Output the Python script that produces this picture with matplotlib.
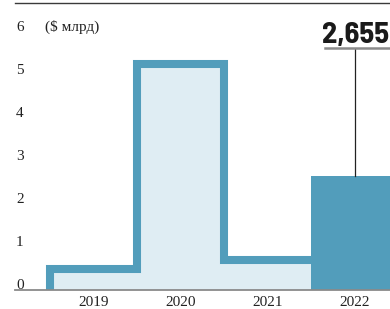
import matplotlib
matplotlib.use("Agg")
import matplotlib.pyplot as plt
import numpy as np

years = ["2019", "2020", "2021", "2022"]
values = [0.48, 5.25, 0.70, 2.655]
yticks = [0, 1, 2, 3, 4, 5, 6]
unit_label = "($ млрд)"
highlight_label = "2,655"

line_color = "#529dbb"
fill_color = "#dfedf3"
bar_color = "#529dbb"

W, H = 390, 309
fig = plt.figure(figsize=(W / 100, H / 100), dpi=100)
ax = fig.add_axes([0, 0, 1, 1])
ax.set_axis_off()

px_per_x = 87.0
x0_px = 93.5
px_per_y = 43.0
y0_px = 290.0  # from top
ax.set_xlim(-x0_px / px_per_x, (W - x0_px) / px_per_x)
ax.set_ylim(-(H - y0_px) / px_per_y, y0_px / px_per_y)

serif = ["Liberation Serif", "DejaVu Serif"]

# step outline for first three years
n = 3
xs = [-0.5]
ys = [0]
for i in range(n):
    xs += [i - 0.5, i + 0.5]
    ys += [values[i], values[i]]
xs = np.array(xs)
ys = np.array(ys)
ax.fill_between(xs, 0, ys, color=fill_color, lw=0, zorder=1)
ax.plot(xs, ys, color=line_color, lw=5.8, solid_joinstyle="miter",
        solid_capstyle="butt", zorder=3)

# highlighted bar
ax.bar([3], [values[3]], width=1.0, color=bar_color, lw=0, zorder=2)

# baseline & top rule
xl = (15 - x0_px) / px_per_x
xr = (W - x0_px) / px_per_x
ax.plot([xl, xr], [0, 0], color="#8a8a8a", lw=1.3, zorder=4, clip_on=False)
ytop = (y0_px - 3) / px_per_y
ax.plot([xl, xr], [ytop, ytop], color="#3a3a3a", lw=1.0, zorder=4, clip_on=False)

# y tick labels
for v in yticks:
    ax.text((16 - x0_px) / px_per_x, v + 0.02, str(v), ha="left", va="baseline",
            family=serif, fontsize=11, color="#222222")
ax.text((45 - x0_px) / px_per_x, 6 + 0.02, unit_label, ha="left", va="baseline",
        family=serif, fontsize=11, color="#222222")

# x tick labels
for i, y in enumerate(years):
    ax.text(i, -0.28, y, ha="center", va="center", family=serif,
            fontsize=11, color="#222222")

# annotation
yline_top = (y0_px - 49) / px_per_y
ax.plot([3, 3], [values[3], yline_top], color="#222222", lw=0.9, zorder=5)
yul = (y0_px - 48) / px_per_y
ax.plot([(325 - x0_px) / px_per_x, xr], [yul, yul], color="#8a8a8a", lw=1.8,
        zorder=5, clip_on=False)
ax.text((389 - x0_px) / px_per_x, (y0_px - 43) / px_per_y, highlight_label,
        ha="right", va="baseline", family=["Barlow Semi Condensed", "DejaVu Sans"],
        fontweight=700, fontsize=22, color="#1a1a1a")

fig.savefig("out.png", dpi=100)
